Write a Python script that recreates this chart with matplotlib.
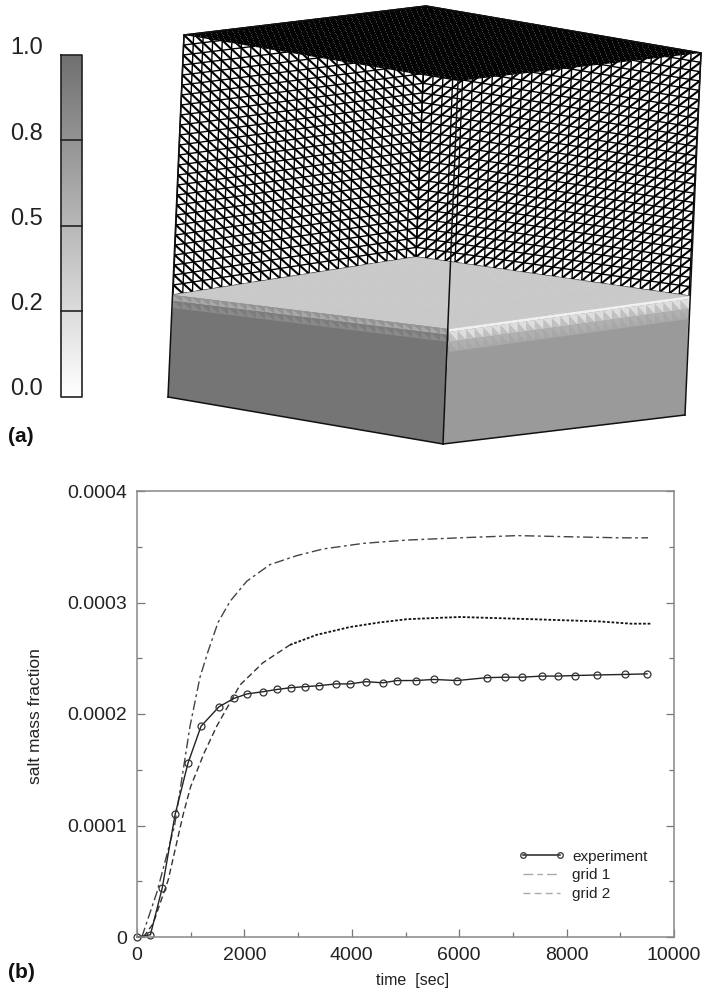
import numpy as np
import matplotlib
matplotlib.use("Agg")
import matplotlib.pyplot as plt
from matplotlib.lines import Line2D

plt.rcParams['font.family'] = ['Liberation Sans', 'DejaVu Sans']

# panel (b) data
exp_t = [0, 250, 470, 710, 950, 1192, 1527, 1806, 2048, 2346, 2607, 2862, 3128, 3389, 3706, 3966,
         4259, 4581, 4842, 5190, 5525, 5960, 6518, 6847, 7170, 7536, 7840, 8150, 8566, 9090, 9497]
exp_y = [0, 0.000002, 0.000044, 0.00011, 0.000156, 0.000189, 0.0002065, 0.000214, 0.000218, 0.00022,
         0.000222, 0.0002236, 0.0002245, 0.0002254, 0.000227, 0.000227, 0.000229, 0.000228, 0.00023,
         0.00023, 0.000231, 0.00023, 0.0002326, 0.000233, 0.000233, 0.000234, 0.000234, 0.0002345,
         0.000235, 0.0002355, 0.000236]
grid1_t = [90, 370, 700, 987, 1173, 1322, 1508, 1732, 2042, 2477, 2974, 3464, 4208, 5028, 6000, 7083, 8000, 9000, 9516]
grid1_y = [0, 0.00004, 0.0001, 0.000189, 0.000233, 0.000256, 0.000282, 0.000301, 0.000319, 0.000334,
           0.000342, 0.000348, 0.000353, 0.000356, 0.000358, 0.00036, 0.000359, 0.000358, 0.000358]
grid2_t = [120, 300, 580, 860, 1000, 1250, 1484, 1918, 2346, 2849]
grid2_y = [0, 0.000012, 0.000051, 0.00011, 0.000135, 0.000165, 0.000189, 0.000226, 0.000246, 0.000262]
grid2b_t = [2849, 3346, 3966, 4500, 5022, 5500, 6015, 6700, 7375, 8000, 8622, 9200, 9585]
grid2b_y = [0.000262, 0.000271, 0.000278, 0.000282, 0.000285, 0.000286, 0.000287, 0.000286, 0.000285,
            0.000284, 0.000283, 0.000281, 0.000281]
xticks = [0, 2000, 4000, 6000, 8000, 10000]
yticks = [0, 0.0001, 0.0002, 0.0003, 0.0004]
ytick_labels = ['0', '0.0001', '0.0002', '0.0003', '0.0004']

# panel (a) data, corners of the box in image pixels
top_left = (184, 35)
top_back = (426, 6)
top_right = (701, 53)
top_front = (458, 81)
surf_left = (173, 295)
surf_back = (416, 257)
surf_right = (689, 296)
surf_front = (449, 329)
bot_left = (168, 397)
bot_front = (443, 444)
bot_right = (685, 415)
bar_labels = ['1.0', '0.8', '0.5', '0.2', '0.0']
n_left = 25
n_right = 28
n_rows = 26


def quad_pts(p00, p10, p01, p11, u, v):
    p00, p10, p01, p11 = map(np.array, (p00, p10, p01, p11))
    return (1 - u) * (1 - v) * p00 + u * (1 - v) * p10 + (1 - u) * v * p01 + u * v * p11


def mesh(ax, p00, p10, p01, p11, n, m, flip=False, lw=1.0, dlw=1.5, color='k', z=2):
    # grid lines and one diagonal per cell
    for i in range(n + 1):
        a = quad_pts(p00, p10, p01, p11, i / n, 0)
        b = quad_pts(p00, p10, p01, p11, i / n, 1)
        ax.plot([a[0], b[0]], [a[1], b[1]], color=color, lw=lw, zorder=z, solid_capstyle='butt')
    for j in range(m + 1):
        a = quad_pts(p00, p10, p01, p11, 0, j / m)
        b = quad_pts(p00, p10, p01, p11, 1, j / m)
        ax.plot([a[0], b[0]], [a[1], b[1]], color=color, lw=lw, zorder=z, solid_capstyle='butt')
    for i in range(n):
        for j in range(m):
            if flip:
                a = quad_pts(p00, p10, p01, p11, (i + 1) / n, j / m)
                b = quad_pts(p00, p10, p01, p11, i / n, (j + 1) / m)
            else:
                a = quad_pts(p00, p10, p01, p11, i / n, j / m)
                b = quad_pts(p00, p10, p01, p11, (i + 1) / n, (j + 1) / m)
            ax.plot([a[0], b[0]], [a[1], b[1]], color=color, lw=dlw, zorder=z, solid_capstyle='butt')


def band(ax, a, b, d0, d1, color, tooth=None, n=28, z=4):
    # strip below the edge a-b, offset d0 to d1 pixels, with optional sawtooth
    xs = [a[0], b[0], b[0], a[0]]
    ys = [a[1] + d0, b[1] + d0, b[1] + d1, a[1] + d1]
    ax.fill(xs, ys, color=color, lw=0, zorder=z)
    if tooth:
        for i in range(n):
            x0 = a[0] + (b[0] - a[0]) * i / n
            x1 = a[0] + (b[0] - a[0]) * (i + 1) / n
            y0 = a[1] + (b[1] - a[1]) * i / n
            y1 = a[1] + (b[1] - a[1]) * (i + 1) / n
            ax.fill([x0, x1, x1], [y0 + d0, y1 + d0, y1 + d1], color=tooth, lw=0, zorder=z + 0.1)


fig = plt.figure(figsize=(7.02, 9.92), dpi=100)
canvas = fig.add_axes([0, 0, 1, 1])
canvas.axis('off')

# colour bar, white at the bottom
ramp = np.linspace(0.44, 1.0, 256).reshape(-1, 1)
canvas.imshow(ramp, extent=(61, 82, 397, 55), cmap='gray', vmin=0, vmax=1, aspect='auto', zorder=1)
canvas.set_xlim(0, 702)
canvas.set_ylim(992, 0)
canvas.plot([61, 82, 82, 61, 61], [55, 55, 397, 397, 55], color='#222222', lw=1.2, zorder=2)
for yb in [140, 226, 311]:
    canvas.plot([61, 82], [yb, yb], color='#222222', lw=1.2, zorder=2)
for lab, yb in zip(bar_labels, [48, 134, 219, 304, 389]):
    canvas.text(43, yb, lab, ha='right', va='center', fontsize=17, color='#222222')

# mesh walls behind, dense top, then the salt layer
mesh(canvas, top_left, top_back, surf_left, surf_back, n_left, n_rows, flip=False)
mesh(canvas, top_back, top_right, surf_back, surf_right, n_right, n_rows, flip=True)
canvas.fill(*zip(top_left, top_back, top_right, top_front), color='#040404', lw=0, zorder=3)
ug, vg = np.meshgrid(np.linspace(0.02, 0.98, 44), np.linspace(0.02, 0.98, 44))
top_pts = quad_pts(top_left, top_back, top_front, top_right, ug.ravel()[:, None], vg.ravel()[:, None])
canvas.scatter(top_pts[:, 0], top_pts[:, 1], s=0.4, color='white', alpha=0.2, lw=0, zorder=3.1)

canvas.fill(*zip(surf_left, surf_back, surf_right, surf_front), color='#d0d0d0', lw=0, zorder=4)
mesh(canvas, surf_left, surf_back, surf_front, surf_right, 34, 34, lw=0.3, dlw=0.2, color='#c6c6c6', z=4.05)
canvas.fill([surf_left[0], surf_front[0], bot_front[0], bot_left[0]],
            [surf_left[1], surf_front[1], bot_front[1], bot_left[1]], color='#757575', lw=0, zorder=4.2)
canvas.fill([surf_front[0], surf_right[0], bot_right[0], bot_front[0]],
            [surf_front[1], surf_right[1], bot_right[1], bot_front[1]], color='#9a9a9a', lw=0, zorder=4.2)
band(canvas, surf_left, surf_front, 0, 6, '#a8a8a8', tooth='#939393', n=30, z=4.3)
band(canvas, surf_left, surf_front, 6, 13, '#8a8a8a', tooth='#7c7c7c', n=30, z=4.3)
band(canvas, surf_front, surf_right, 0, 3, '#f0f0f0', z=4.3)
band(canvas, surf_front, surf_right, 3, 13, '#c0c0c0', tooth='#dedede', n=28, z=4.3)
band(canvas, surf_front, surf_right, 13, 23, '#a8a8a8', tooth='#b0b0b0', n=28, z=4.3)

edges = [(top_left, bot_left), (top_right, bot_right), (top_front, bot_front), (bot_left, bot_front),
         (bot_front, bot_right), (top_left, top_back), (top_back, top_right)]
for p, q in edges:
    canvas.plot([p[0], q[0]], [p[1], q[1]], color='#111111', lw=1.1, zorder=6)

canvas.text(8, 437, '(a)', fontsize=15, fontweight='bold', va='center', color='#111111')
canvas.text(8, 973, '(b)', fontsize=15, fontweight='bold', va='center', color='#111111')

# panel (b)
ax = fig.add_axes([137 / 702, 1 - 937 / 992, (674 - 137) / 702, (937 - 491) / 992])
ax.set_xlim(0, 10000)
ax.set_ylim(0, 0.0004)
ax.patch.set_alpha(0)
ax.plot(grid1_t, grid1_y, color='#444444', lw=1.0, dashes=(7, 2.5, 2, 2.5))
ax.plot(grid2_t, grid2_y, color='#333333', lw=1.0, dashes=(4.5, 2.5))
ax.plot(grid2b_t, grid2b_y, color='#111111', lw=1.3, dashes=(1.5, 1))
ax.plot(exp_t, exp_y, color='#222222', lw=1.0, marker='o', ms=5, mfc='none', mec='#333333', mew=0.9, clip_on=False)

for s in ax.spines.values():
    s.set_color('#888888')
    s.set_linewidth(1.1)
ax.set_xticks(xticks)
ax.set_yticks(yticks)
ax.set_yticklabels(ytick_labels)
ax.set_xticks([1000, 3000, 5000, 7000, 9000], minor=True)
ax.set_yticks([0.00005, 0.00015, 0.00025, 0.00035], minor=True)
ax.tick_params(which='major', direction='in', length=6, width=0.9, color='#777777', labelsize=14,
               top=False, right=True, pad=7, labelcolor='#222222')
ax.tick_params(which='minor', direction='in', length=3.5, width=0.9, color='#777777', top=False, right=True)
fig.text(413 / 702, 1 - 980 / 992, 'time  [sec]', fontsize=11.5, ha='center', va='center', color='#222222')
fig.text(36 / 702, 1 - 716 / 992, 'salt mass fraction', rotation=90, fontsize=12.5, ha='center', va='center', color='#222222')

handles = [Line2D([], [], color='#222222', lw=1.1, marker='o', ms=4, mfc='none', mec='#444444'),
           Line2D([], [], color='#aaaaaa', lw=1.0, dashes=(7, 3, 4, 3)),
           Line2D([], [], color='#aaaaaa', lw=1.0, dashes=(5, 3))]
ax.legend(handles, ['experiment', 'grid 1', 'grid 2'], numpoints=2, frameon=False, fontsize=11,
          loc='lower left', bbox_to_anchor=(0.685, 0.05), handlelength=3.0, labelspacing=0.3, handletextpad=0.5,
          labelcolor='#222222')

fig.savefig('out.png', dpi=100)
